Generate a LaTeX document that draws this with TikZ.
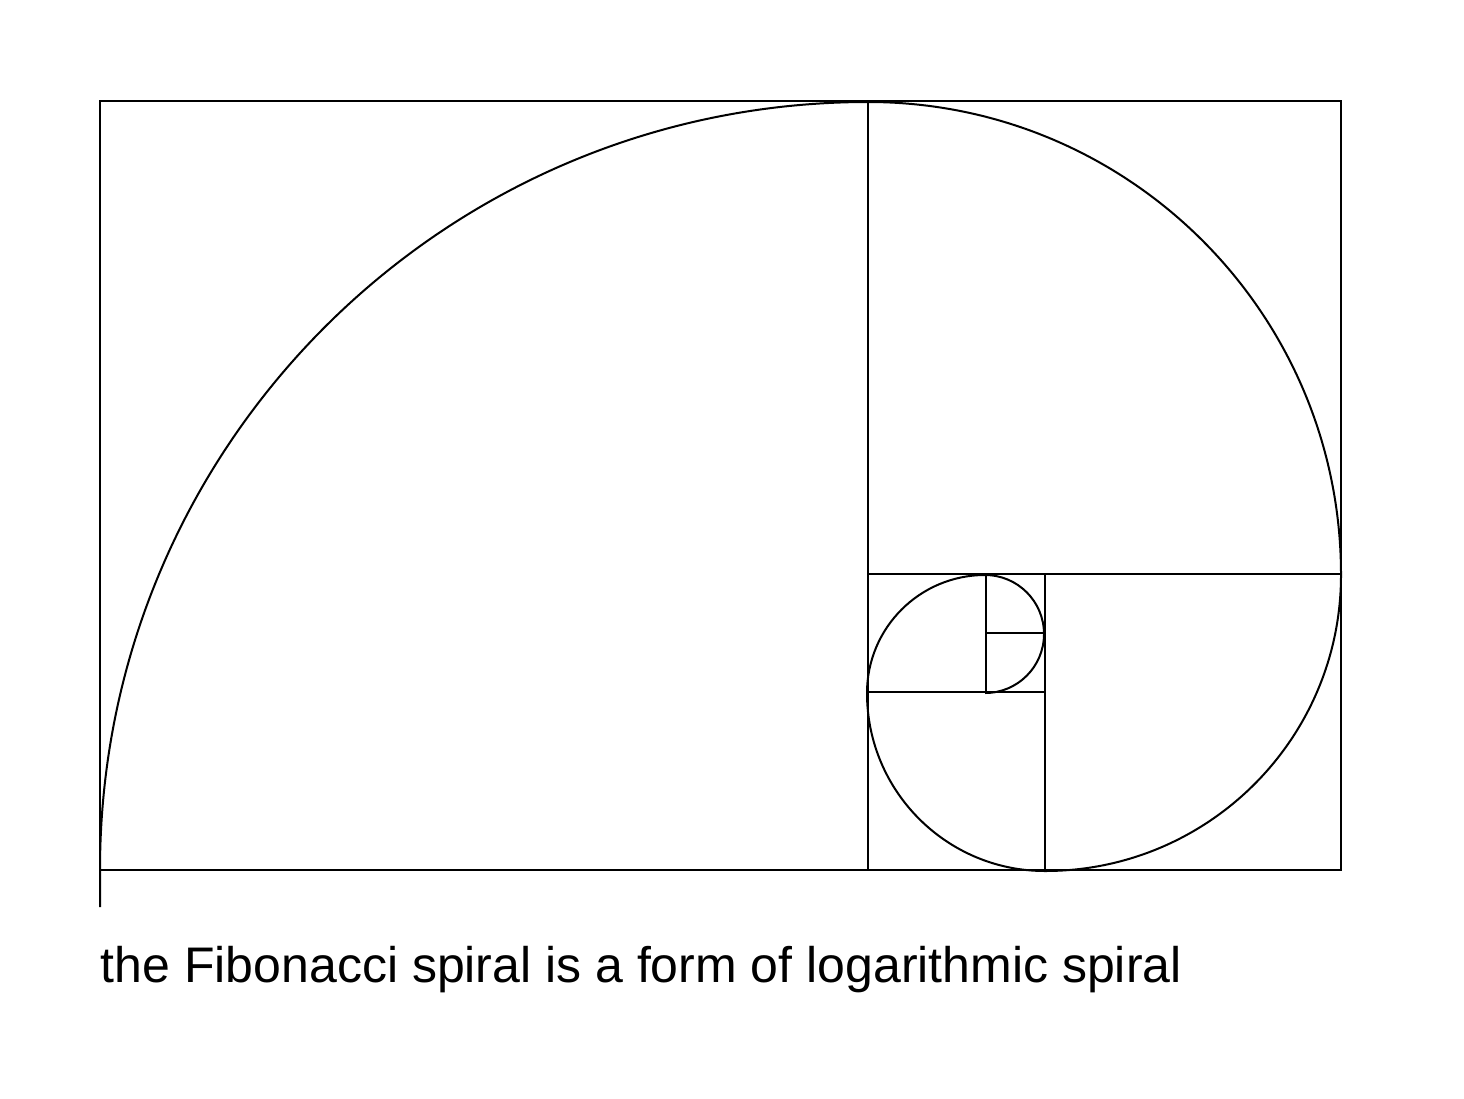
\documentclass[tikz,border=0pt]{standalone}
\usepackage{fontspec}
\setmainfont{Liberation Sans}
\begin{document}
\begin{tikzpicture}[x=1pt,y=-1pt,line width=1.6pt,
  sq/.style={draw,line width=1.8pt},
  sp/.style={draw,line width=2pt}]
\useasboundingbox (0,0) rectangle (1464,1098);
% squares
\draw[sq] (100,101) rectangle (1341,870);
\draw[sq] (868,101) -- (868,870);
\draw[sq] (868,574) -- (1341,574);
\draw[sq] (1045,574) -- (1045,870);
\draw[sq] (868,692) -- (1045,692);
\draw[sq] (986,574) -- (986,692);
\draw[sq] (986,633) -- (1045,633);
% spiral
\coordinate (s0) at (100,907);
\coordinate (s1) at (100,870);
\draw[sp] (s0) -- (s1)
  arc[start angle=180,end angle=270,radius=768]
  arc[start angle=270,end angle=360,radius=473]
  arc[start angle=0,end angle=90,radius=296]
  arc[start angle=90,end angle=180,radius=178]
  arc[start angle=180,end angle=270,radius=118]
  arc[start angle=270,end angle=450,radius=59];
\node[anchor=base west,inner sep=0pt,font=\fontsize{50}{60}\selectfont] (cap) at (100,982) {the Fibonacci spiral is a form of logarithmic spiral};
\end{tikzpicture}
\end{document}
